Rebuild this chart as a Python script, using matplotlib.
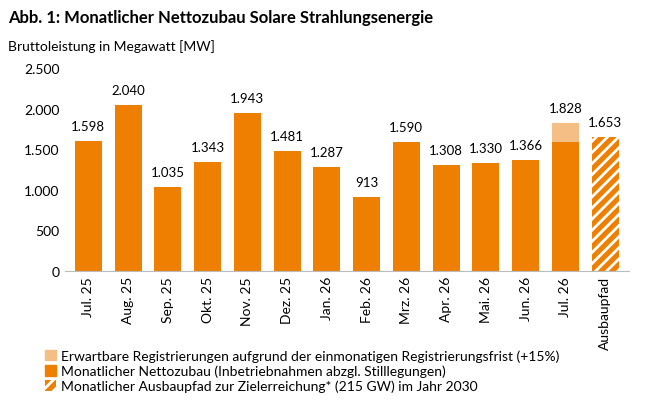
import matplotlib.pyplot as plt
from matplotlib.patches import Patch
from matplotlib.ticker import FuncFormatter

plt.rcParams['font.family'] = ['Lato', 'DejaVu Sans']
plt.rcParams['hatch.linewidth'] = 2.0

months = ['Jul. 25', 'Aug. 25', 'Sep. 25', 'Okt. 25', 'Nov. 25', 'Dez. 25', 'Jan. 26',
          'Feb. 26', 'Mrz. 26', 'Apr. 26', 'Mai. 26', 'Jun. 26', 'Jul. 26']
netto = [1598, 2040, 1035, 1343, 1943, 1481, 1287, 913, 1590, 1308, 1330, 1366, 1590]
erwartet = [0] * 12 + [238]
pfad = 1653

orange = '#EE7F00'
light = '#F5BE85'

def de(v):
    return f'{v:,.0f}'.replace(',', '.')

fig = plt.figure(figsize=(6.45, 4.06), dpi=100)
ax = fig.add_axes([0.10, 0.33, 0.875, 0.50])
x = list(range(len(months)))
ax.bar(x, netto, width=0.68, color=orange)
ax.bar(x, erwartet, bottom=netto, width=0.68, color=light)
ax.bar([13], [pfad], width=0.68, color=orange, edgecolor='white', hatch='///', linewidth=0)
for i in x:
    tot = netto[i] + erwartet[i]
    ax.text(i, tot + 110, de(tot), ha='center', va='bottom', fontsize=9.5)
ax.text(13, pfad + 110, de(pfad), ha='center', va='bottom', fontsize=9.5)

ax.set_xlim(-0.6, 13.6)
ax.set_ylim(0, 2500)
ax.set_yticks(range(0, 2501, 500))
ax.yaxis.set_major_formatter(FuncFormatter(lambda v, p: de(v)))
ax.set_xticks(x + [13])
ax.set_xticklabels(months + ['Ausbaupfad'], rotation=90, fontsize=10)
ax.tick_params(axis='y', labelsize=10, length=0)
ax.tick_params(axis='x', length=0)
for s in ['top', 'right', 'left']:
    ax.spines[s].set_visible(False)
ax.spines['bottom'].set_color('#BBBBBB')

fig.text(0.012, 0.955, 'Abb. 1: Monatlicher Nettozubau Solare Strahlungsenergie',
         fontsize=12, fontweight='bold', va='center')
fig.text(0.012, 0.885, 'Bruttoleistung in Megawatt [MW]', fontsize=10, va='center')

handles = [Patch(color=light), Patch(color=orange),
           Patch(facecolor=orange, edgecolor='white', hatch='///', linewidth=0)]
labels = ['Erwartbare Registrierungen aufgrund der einmonatigen Registrierungsfrist (+15%)',
          'Monatlicher Nettozubau (Inbetriebnahmen abzgl. Stilllegungen)',
          'Monatlicher Ausbaupfad zur Zielerreichung* (215 GW) im Jahr 2030']
fig.legend(handles, labels, loc='lower left', bbox_to_anchor=(0.05, 0.0), frameon=False,
           fontsize=10, handlelength=0.8, handleheight=0.8, labelspacing=0.2, handletextpad=0.4)

fig.savefig('out.png', dpi=100)
